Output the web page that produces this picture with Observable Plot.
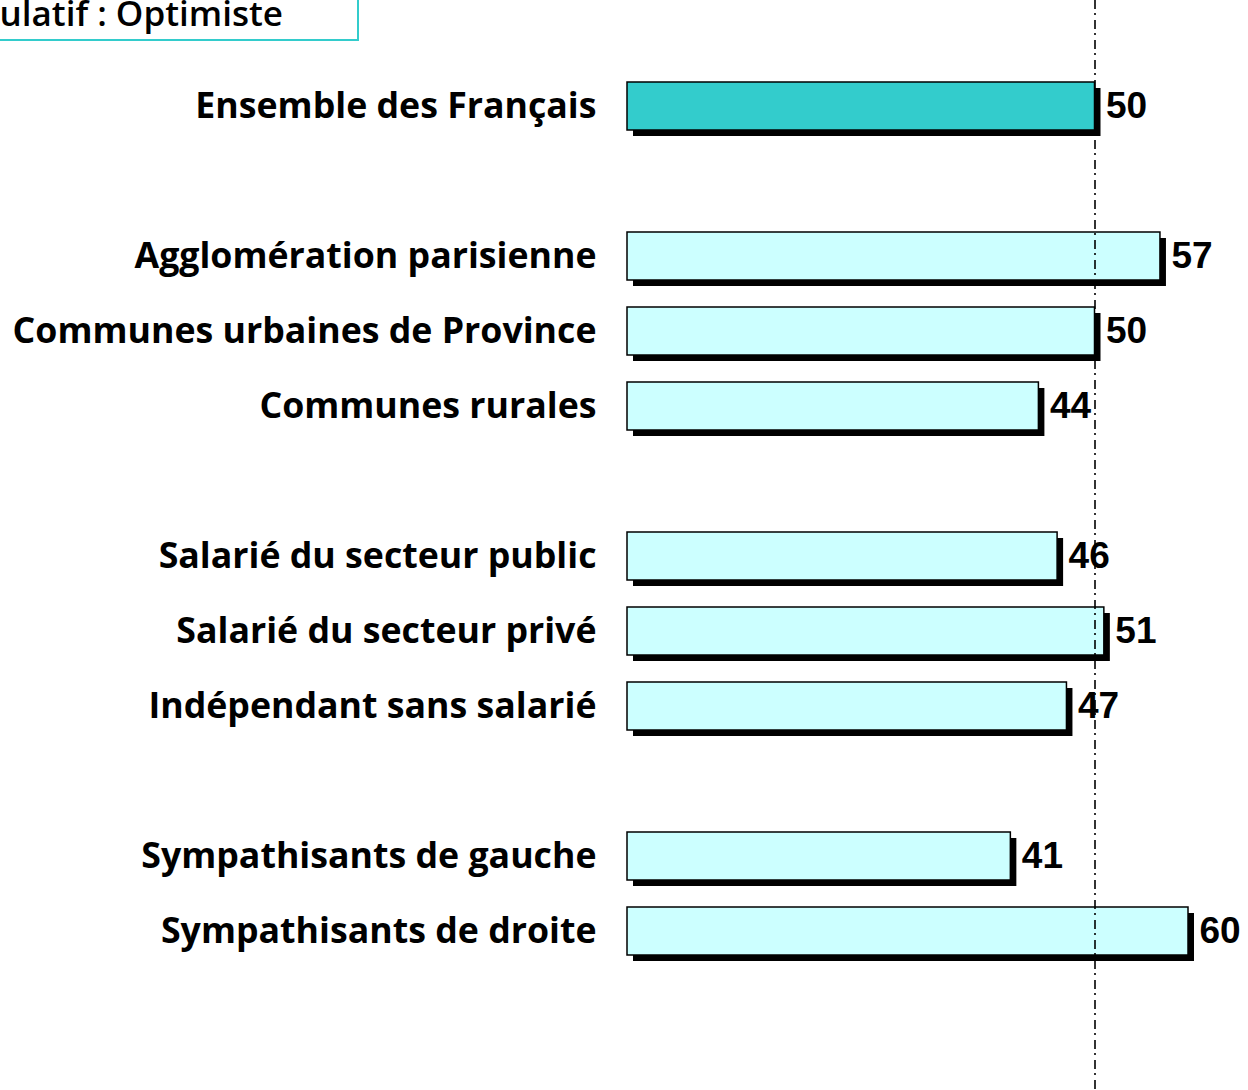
<!DOCTYPE html>
<html>
<head>
<meta charset="utf-8">
<script src="https://cdn.jsdelivr.net/npm/d3@7"></script>
<script src="https://cdn.jsdelivr.net/npm/@observablehq/plot@0.6"></script>
<style>
  html, body { margin: 0; padding: 0; background: #fff; overflow: hidden; }
  #wrap { position: relative; width: 1248px; height: 1090px; overflow: hidden; }
  #title {
    position: absolute; box-sizing: border-box;
    top: -30px; left: -300px; width: 659px; height: 71px;
    border: 2px solid #33CCCC; background: #fff;
    font-family: "Open Sans", sans-serif; font-weight: 600; font-size: 35px; line-height: 35px;
    text-align: right; padding-right: 74px; padding-top: 23px; color: #000; white-space: nowrap;
  }
  #chart { position: absolute; left: 0; top: 0; }
</style>
</head>
<body>
<div id="wrap">
  <div id="chart"></div>
  <div id="title">Cumulatif : Optimiste</div>
</div>
<script>
const categories = [
  "Ensemble des Français",
  "Agglomération parisienne",
  "Communes urbaines de Province",
  "Communes rurales",
  "Salarié du secteur public",
  "Salarié du secteur privé",
  "Indépendant sans salarié",
  "Sympathisants de gauche",
  "Sympathisants de droite"
];
const values = [50, 57, 50, 44, 46, 51, 47, 41, 60];
const groups = [0, 1, 1, 1, 2, 2, 2, 3, 3];
const highlight = ["Ensemble des Français"];
const referenceValue = 50;

const data = categories.map((c, i) => ({category: c, value: values[i], group: groups[i]}));

// band domain with a blank slot between groups
const domain = [];
data.forEach((d, i) => {
  if (i > 0 && d.group !== data[i - 1].group) domain.push("gap" + d.group);
  domain.push(d.category);
});

const fillOf = d => highlight.includes(d.category) ? "#33CCCC" : "#CCFFFF";

const chart = Plot.plot({
  width: 1248,
  height: 1090,
  margin: 0,
  x: {domain: [0, 621 / 9.35], range: [627, 1248], axis: null},
  y: {type: "band", domain, range: [64.7, 972], paddingInner: 0.36, paddingOuter: 0.18, axis: null},
  marks: [
    Plot.barX(data, {x: "value", y: "category", fill: "#000", dx: 6, dy: 6}),
    Plot.barX(data, {x: "value", y: "category", fill: fillOf, stroke: "#000", strokeWidth: 1.5}),
    Plot.ruleX([referenceValue], {stroke: "#000", strokeWidth: 1.6, strokeDasharray: "9,4,2,5"}),
    Plot.text(data, {
      x: 0, y: "category", text: "category", textAnchor: "end", dx: -31,
      fontFamily: "Open Sans", fontWeight: 700, fontSize: 35.7, fill: "#000"
    }),
    Plot.text(data, {
      x: "value", y: "category", text: d => String(d.value), textAnchor: "start", dx: 11,
      fontFamily: "Liberation Sans", fontWeight: "bold", fontSize: 37, fill: "#000"
    })
  ]
});
document.getElementById("chart").appendChild(chart);
</script>
</body>
</html>
